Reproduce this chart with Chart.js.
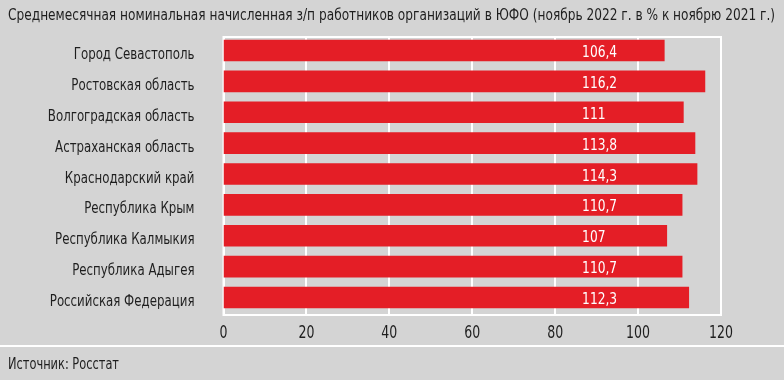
<!DOCTYPE html>
<html>
<head>
<meta charset="utf-8">
<script src="https://cdn.jsdelivr.net/npm/chart.js@4.4.1/dist/chart.umd.min.js"></script>
<style>
html,body{margin:0;padding:0;background:#d4d4d4;}
#c{display:block;}
</style>
</head>
<body>
<canvas id="c" width="784" height="380"></canvas>
<script>
const titleText = 'Среднемесячная номинальная начисленная з/п работников организаций в ЮФО (ноябрь 2022 г. в % к ноябрю 2021 г.)';
const sourceText = 'Источник: Росстат';
const categories = ['Город Севастополь','Ростовская область','Волгоградская область','Астраханская область','Краснодарский край','Республика Крым','Республика Калмыкия','Республика Адыгея','Российская Федерация'];
const values = [106.4, 116.2, 111, 113.8, 114.3, 110.7, 107, 110.7, 112.3];
const xMin = 0, xMax = 120, xStep = 20;
const labelAnchorValue = 86.5;

const FONT = '"Liberation Sans Narrow", "DejaVu Sans Condensed", Roboto, sans-serif';
const BG = '#d4d4d4';
const RED = '#e41e26';
const TEXT = '#1e1e1e';
const SX = 0.82;

const fmt = v => String(v).replace('.', ',');

function drawText(ctx, text, x, y, align, sx) {
  ctx.save();
  ctx.translate(x, y);
  ctx.scale(sx, 1);
  ctx.textAlign = align;
  ctx.fillText(text, 0, 0);
  ctx.restore();
}

const BORDER_SHIFT = 2;

const decor = {
  id: 'decor',
  beforeDraw(chart) {
    const ctx = chart.ctx;
    ctx.save();
    ctx.fillStyle = BG;
    ctx.fillRect(0, 0, chart.width, chart.height);
    ctx.fillStyle = TEXT;
    ctx.textBaseline = 'alphabetic';
    // title fitted to width
    ctx.font = '15px ' + FONT;
    const tw = ctx.measureText(titleText).width;
    drawText(ctx, titleText, 8, 20, 'left', 767 / tw);
    // separator
    ctx.strokeStyle = '#ffffff';
    ctx.lineWidth = 2;
    ctx.beginPath();
    ctx.moveTo(0, 346);
    ctx.lineTo(chart.width, 346);
    ctx.stroke();
    // source
    ctx.font = '16px ' + FONT;
    const sw = ctx.measureText(sourceText).width;
    drawText(ctx, sourceText, 8, 369, 'left', 111 / sw);
    ctx.restore();
  },
  beforeDatasetsDraw(chart) {
    const ctx = chart.ctx;
    const a = chart.chartArea;
    const xs = chart.scales.x;
    const ys = chart.scales.y;
    const top = a.top + BORDER_SHIFT, bottom = a.bottom + BORDER_SHIFT;
    ctx.save();
    ctx.strokeStyle = '#ffffff';
    ctx.lineWidth = 2;
    for (let v = xMin; v <= xMax; v += xStep) {
      const px = Math.round(xs.getPixelForValue(v));
      ctx.beginPath();
      ctx.moveTo(px, top);
      ctx.lineTo(px, bottom);
      ctx.stroke();
    }
    ctx.strokeRect(a.left, top, a.right - a.left, bottom - top);
    // x tick labels
    ctx.fillStyle = TEXT;
    ctx.font = '17px ' + FONT;
    ctx.textBaseline = 'alphabetic';
    for (let v = xMin; v <= xMax; v += xStep) {
      drawText(ctx, String(v), xs.getPixelForValue(v), 337.5, 'center', SX);
    }
    // y category labels
    ctx.font = '16px ' + FONT;
    categories.forEach((c, i) => {
      drawText(ctx, c, a.left - 29, ys.getPixelForValue(i) + 8.5, 'right', SX);
    });
    ctx.restore();
  },
  afterDatasetsDraw(chart) {
    const ctx = chart.ctx;
    const meta = chart.getDatasetMeta(0);
    const xs = chart.scales.x;
    ctx.save();
    ctx.fillStyle = '#ffffff';
    ctx.font = '16px ' + FONT;
    ctx.textBaseline = 'alphabetic';
    meta.data.forEach((bar, i) => {
      drawText(ctx, fmt(values[i]), xs.getPixelForValue(labelAnchorValue), bar.y + 6.5, 'left', 0.85);
    });
    ctx.restore();
  }
};

new Chart(document.getElementById('c'), {
  type: 'bar',
  data: {
    labels: categories,
    datasets: [{
      data: values,
      backgroundColor: RED,
      borderWidth: 0,
      barPercentage: 0.7,
      categoryPercentage: 1
    }]
  },
  options: {
    indexAxis: 'y',
    responsive: false,
    animation: false,
    devicePixelRatio: 1,
    layout: { padding: { top: 35, right: 63, bottom: 0, left: 0 } },
    plugins: { legend: { display: false }, tooltip: { enabled: false }, title: { display: false } },
    scales: {
      x: {
        min: xMin, max: xMax,
        afterFit(s) { s.height = 67; },
        grid: { display: false },
        border: { display: false },
        ticks: { stepSize: xStep, display: false }
      },
      y: {
        afterFit(s) { s.width = 223.5; },
        grid: { display: false },
        border: { display: false },
        ticks: { display: false }
      }
    }
  },
  plugins: [decor]
});
</script>
</body>
</html>
